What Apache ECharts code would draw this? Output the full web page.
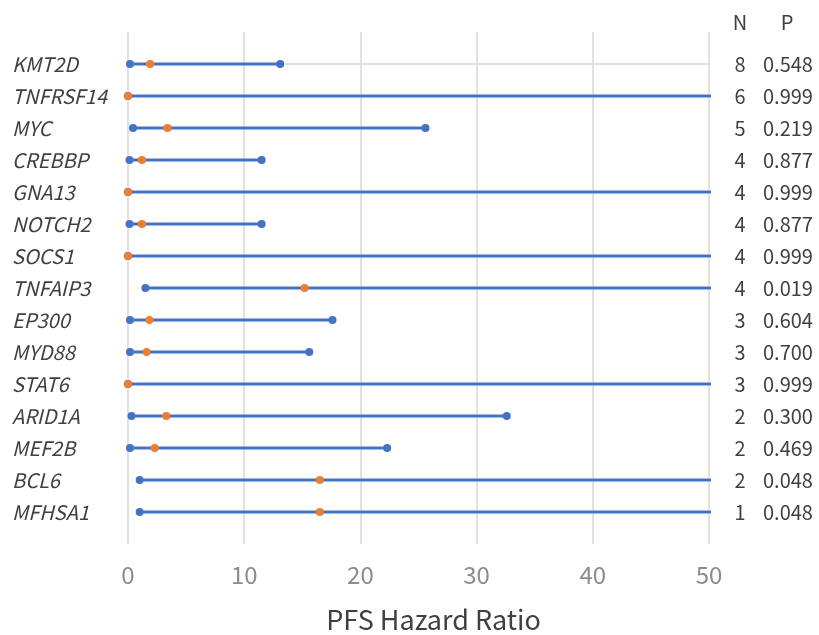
<!DOCTYPE html>
<html>
<head>
<meta charset="utf-8">
<script src="https://cdn.jsdelivr.net/npm/echarts@6/dist/echarts.min.js"></script>
<style>
  html, body { margin: 0; padding: 0; background: #fff; }
  #main { width: 819px; height: 635px; }
</style>
</head>
<body>
<div id="main"></div>
<script>
// genes from top to bottom
var genes = ['KMT2D', 'TNFRSF14', 'MYC', 'CREBBP', 'GNA13', 'NOTCH2', 'SOCS1', 'TNFAIP3',
	'EP300', 'MYD88', 'STAT6', 'ARID1A', 'MEF2B', 'BCL6', 'MFHSA1'];
var nCount = [8, 6, 5, 4, 4, 4, 4, 4, 3, 3, 3, 2, 2, 2, 1];
var pValue = ['0.548', '0.999', '0.219', '0.877', '0.999', '0.877', '0.999', '0.019',
	'0.604', '0.700', '0.999', '0.300', '0.469', '0.048', '0.048'];
// hazard ratio and 95% CI (upper > 50 runs off the plot)
var hr    = [1.9, 0, 3.4, 1.2, 0, 1.2, 0, 15.2, 1.85, 1.6, 0, 3.3, 2.3, 16.5, 16.5];
var lower = [0.17, 0, 0.43, 0.13, 0, 0.13, 0, 1.5, 0.17, 0.17, 0, 0.3, 0.17, 1.0, 1.0];
var upper = [13.1, 60, 25.6, 11.5, 60, 11.5, 60, 60, 17.6, 15.6, 60, 32.6, 22.3, 60, 60];
var xTicks = [0, 10, 20, 30, 40, 50];

var chart = echarts.init(document.getElementById('main'));
var font = '"Noto Sans CJK JP", "Noto Sans", sans-serif';

function rowAxis(pos, labels, margin, align, name, namePad) {
	return {
		type: 'value', position: pos, inverse: true, min: -1, max: 15, interval: 1,
		axisLine: {show: false}, axisTick: {show: false}, splitLine: {show: false},
		name: name, nameLocation: 'start', nameGap: 0,
		nameTextStyle: {fontFamily: font, fontSize: 20, color: '#404040',
			align: 'center', padding: [0, 0, 0, namePad || 0]},
		axisLabel: {
			margin: margin, align: align, fontFamily: font, fontSize: 20, color: '#404040',
			fontStyle: pos === 'left' ? 'italic' : 'normal',
			formatter: function (v) {
				var s = labels[v];
				return s === undefined ? '' : String(s);
			}
		}
	};
}

var ciSeries = genes.map(function (g, i) {
	return {
		type: 'line', name: g, clip: true, z: 2,
		data: [[lower[i], i], [upper[i], i]],
		symbol: 'circle', symbolSize: 8, showSymbol: true,
		lineStyle: {color: '#4472C4', width: 3},
		itemStyle: {color: '#4472C4'},
		silent: true
	};
});

chart.setOption({
	animation: false,
	grid: {left: 128, right: 110, top: 32, bottom: 91, outerBoundsMode: 'none', containLabel: false},
	xAxis: {
		type: 'value', min: xTicks[0], max: xTicks[xTicks.length - 1], interval: 10,
		axisLine: {show: true, lineStyle: {color: '#d9d9d9', width: 1.5}},
		axisTick: {show: false},
		splitLine: {show: true, lineStyle: {color: '#d9d9d9', width: 1.5}},
		axisLabel: {margin: 19, fontFamily: font, fontSize: 24, color: '#8c8c8c'},
		name: 'PFS Hazard Ratio', nameLocation: 'middle', nameGap: 62,
		nameTextStyle: {fontFamily: font, fontSize: 27, color: '#404040', padding: [0, 0, 0, 30]}
	},
	yAxis: [
		rowAxis('left', genes, 116, 'left', ''),
		rowAxis('right', nCount, 31, 'center', 'N', 62),
		rowAxis('right', pValue, 54, 'left', 'P', 156)
	],
	series: ciSeries.concat([{
		type: 'scatter', clip: false, z: 5,
		data: hr.map(function (v, i) { return [v, i]; }),
		symbol: 'circle', symbolSize: 8,
		itemStyle: {color: '#ED7D31', opacity: 1}
	}])
});
</script>
</body>
</html>
